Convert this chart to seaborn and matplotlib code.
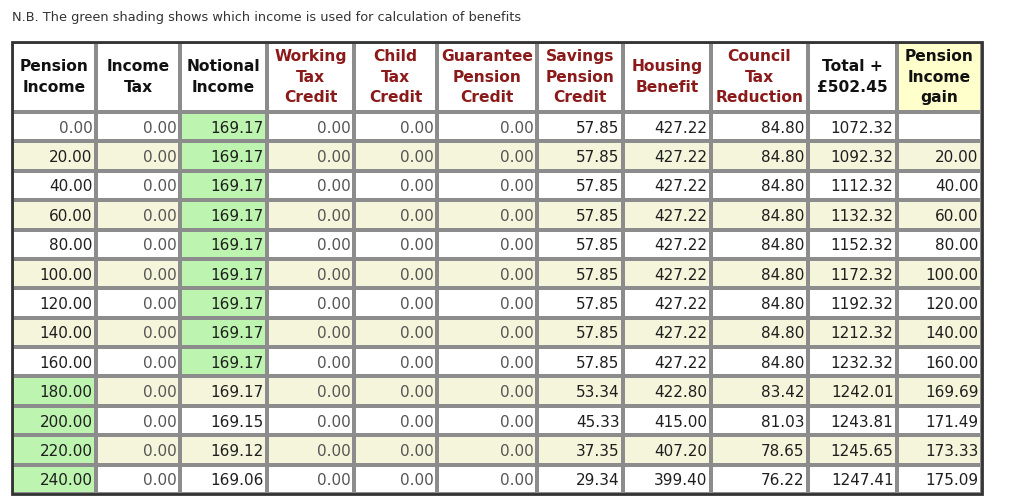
import numpy as np
import matplotlib
matplotlib.use("Agg")
import matplotlib.pyplot as plt
from matplotlib.colors import ListedColormap
from matplotlib.patches import Rectangle
import seaborn as sns

# ======================
# Data
# ======================
headers = ["Pension\nIncome", "Income\nTax", "Notional\nIncome", "Working\nTax\nCredit",
           "Child\nTax\nCredit", "Guarantee\nPension\nCredit", "Savings\nPension\nCredit",
           "Housing\nBenefit", "Council\nTax\nReduction", "Total +\n£502.45",
           "Pension\nIncome\ngain"]

pension_income = [0.00, 20.00, 40.00, 60.00, 80.00, 100.00, 120.00, 140.00, 160.00,
                  180.00, 200.00, 220.00, 240.00]
income_tax = [0.00] * 13
notional_income = [169.17, 169.17, 169.17, 169.17, 169.17, 169.17, 169.17, 169.17, 169.17,
                   169.17, 169.15, 169.12, 169.06]
working_tax_credit = [0.00] * 13
child_tax_credit = [0.00] * 13
guarantee_pension_credit = [0.00] * 13
savings_pension_credit = [57.85, 57.85, 57.85, 57.85, 57.85, 57.85, 57.85, 57.85, 57.85,
                          53.34, 45.33, 37.35, 29.34]
housing_benefit = [427.22, 427.22, 427.22, 427.22, 427.22, 427.22, 427.22, 427.22, 427.22,
                   422.80, 415.00, 407.20, 399.40]
council_tax_reduction = [84.80, 84.80, 84.80, 84.80, 84.80, 84.80, 84.80, 84.80, 84.80,
                         83.42, 81.03, 78.65, 76.22]
total = [1072.32, 1092.32, 1112.32, 1132.32, 1152.32, 1172.32, 1192.32, 1212.32, 1232.32,
         1242.01, 1243.81, 1245.65, 1247.41]
pension_income_gain = [None, 20.00, 40.00, 60.00, 80.00, 100.00, 120.00, 140.00, 160.00,
                       169.69, 171.49, 173.33, 175.09]

columns = [pension_income, income_tax, notional_income, working_tax_credit, child_tax_credit,
           guarantee_pension_credit, savings_pension_credit, housing_benefit,
           council_tax_reduction, total, pension_income_gain]

# which income is used for benefits (green shading)
notional_used = [True] * 9 + [False] * 4

# header colours: benefits in dark red
benefit_cols = {3, 4, 5, 6, 7, 8}

# ======================
# Layout (pixels)
# ======================
W, H = 1024, 497
col_edges = [12, 96, 180, 267, 354, 437, 537, 623, 711, 808, 897, 982]
head_top, head_bot, body_bot = 42, 112, 494

WHITE, BEIGE, GREEN, YELLOW = 0, 1, 2, 3
cmap = ListedColormap(["#ffffff", "#f5f5dc", "#bdf5b0", "#ffffcc"])
grid_color = "#8c8c8c"
red = "#8b1a1a"

n_rows = len(pension_income)
codes = np.zeros((n_rows, len(columns)), dtype=int)
for i in range(n_rows):
    codes[i, :] = BEIGE if i % 2 else WHITE
    if notional_used[i]:
        codes[i, 2] = GREEN
    else:
        codes[i, 0] = GREEN
head_codes = np.array([[WHITE] * (len(columns) - 1) + [YELLOW]])

fig = plt.figure(figsize=(W / 100, H / 100), dpi=100)
fig.text(12 / W, 1 - 18 / H, "N.B. The green shading shows which income is used for calculation of benefits",
         fontsize=9.3, color="#333333", va="center", ha="left")


def px_axes(x0, x1, y0, y1):
    return fig.add_axes([x0 / W, 1 - y1 / H, (x1 - x0) / W, (y1 - y0) / H])


for j, col in enumerate(columns):
    x0, x1 = col_edges[j], col_edges[j + 1]

    # header cell
    axh = px_axes(x0, x1, head_top, head_bot)
    sns.heatmap(head_codes[:, j:j + 1], ax=axh, cmap=cmap, vmin=-0.5, vmax=3.5, cbar=False,
                linewidths=1.5, linecolor=grid_color, xticklabels=False, yticklabels=False)
    axh.text(0.5, 0.5, headers[j], ha="center", va="center", fontsize=11.2, fontweight="bold",
             color=red if j in benefit_cols else "#111111", linespacing=1.42)

    # body cells
    axb = px_axes(x0, x1, head_bot, body_bot)
    sns.heatmap(codes[:, j:j + 1], ax=axb, cmap=cmap, vmin=-0.5, vmax=3.5, cbar=False,
                linewidths=1.5, linecolor=grid_color, xticklabels=False, yticklabels=False)
    pad = 3.5 / (x1 - x0)
    for i, v in enumerate(col):
        if v is None:
            continue
        axb.text(1 - pad, i + 0.55, f"{v:.2f}", ha="right", va="center", fontsize=11,
                 color="#555555" if v == 0 else "#1e1e1e")

# outer border
fig.patches.append(Rectangle((col_edges[0] / W, 1 - body_bot / H),
                             (col_edges[-1] - col_edges[0]) / W, (body_bot - head_top) / H,
                             transform=fig.transFigure, fill=False, edgecolor="#333333",
                             linewidth=2, zorder=10))

fig.savefig("out.png", dpi=100)
